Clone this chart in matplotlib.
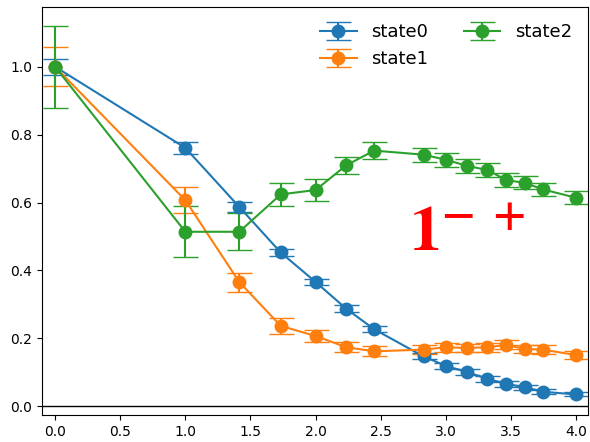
import matplotlib
matplotlib.use('Agg')
import matplotlib.pyplot as plt

# momentum values |p| (sqrt of n^2)
p = [0.0, 1.0, 1.414, 1.732, 2.0, 2.236, 2.449, 2.828, 3.0, 3.162, 3.317, 3.464, 3.606, 3.742, 4.0]

state0 = [1.0, 0.761, 0.587, 0.453, 0.366, 0.287, 0.227, 0.147, 0.119, 0.101, 0.081, 0.066, 0.056, 0.043, 0.035]
state0_err = [0.023, 0.018, 0.015, 0.011, 0.010, 0.010, 0.009, 0.009, 0.008, 0.008, 0.008, 0.008, 0.007, 0.007, 0.006]

state1 = [1.0, 0.607, 0.366, 0.237, 0.207, 0.174, 0.162, 0.167, 0.174, 0.172, 0.174, 0.181, 0.169, 0.167, 0.151]
state1_err = [0.057, 0.039, 0.028, 0.023, 0.019, 0.015, 0.015, 0.013, 0.013, 0.013, 0.013, 0.013, 0.013, 0.013, 0.013]

state2 = [1.0, 0.514, 0.514, 0.624, 0.637, 0.710, 0.753, 0.741, 0.726, 0.708, 0.696, 0.666, 0.658, 0.639, 0.614]
state2_err = [0.121, 0.075, 0.054, 0.035, 0.032, 0.025, 0.024, 0.021, 0.020, 0.020, 0.020, 0.020, 0.019, 0.019, 0.019]

labels = ["state0", "state1", "state2"]

fig = plt.figure(figsize=(5.9, 4.42), dpi=100)
ax = fig.add_axes([0.0712, 0.061, 0.9254, 0.923])

for y, e, lab in zip([state0, state1, state2], [state0_err, state1_err, state2_err], labels):
    ax.errorbar(p, y, yerr=e, marker="o", markersize=9, capsize=9, lw=1.5, label=lab)

ax.axhline(0, color="black", lw=1)
ax.set_xlim(-0.1, 4.09)

ax.text(2.72, 0.458, r"$\mathbf{1^{-\ +}}$", color="red", fontsize=46,
        math_fontfamily="stix")

ax.legend(ncol=2, loc="upper right", frameon=False, fontsize=13)

fig.savefig("out.png", dpi=100)
